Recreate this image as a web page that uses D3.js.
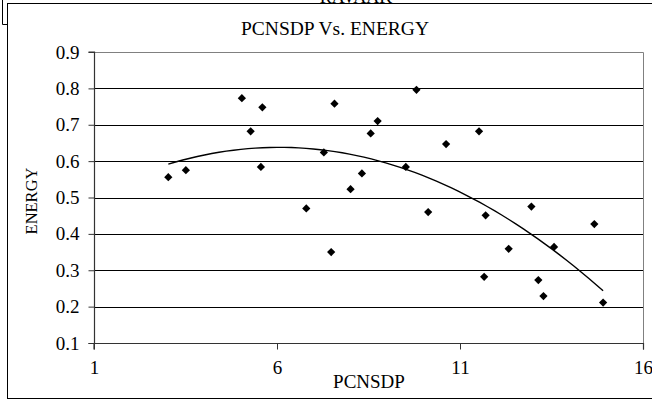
<!DOCTYPE html>
<html>
<head>
<meta charset="utf-8">
<script src="https://cdn.jsdelivr.net/npm/d3@7"></script>
<style>
  html, body { margin: 0; padding: 0; background: #fff; }
  svg { display: block; }
  text { font-family: "Liberation Serif", "Times New Roman", serif; fill: #000; }
</style>
</head>
<body>
<script>
// ---- data ----
const pcnsdp = [3.03, 3.51, 5.04, 5.28, 5.60, 5.56, 6.80, 7.28, 7.57, 7.48, 8.01, 8.32, 8.56, 8.75,
                9.81, 9.52, 10.13, 10.62, 11.52, 11.70, 11.66, 12.33, 12.95, 13.14, 13.28, 13.57, 14.67, 14.91];
const energy = [0.556, 0.575, 0.773, 0.682, 0.748, 0.584, 0.470, 0.624, 0.758, 0.350, 0.523, 0.566, 0.676, 0.710,
                0.796, 0.584, 0.460, 0.647, 0.682, 0.451, 0.282, 0.359, 0.475, 0.273, 0.229, 0.364, 0.427, 0.211];
const xTicks = [1, 6, 11, 16];
const yTicks = [0.1, 0.2, 0.3, 0.4, 0.5, 0.6, 0.7, 0.8, 0.9];
const chartTitle = "PCNSDP Vs. ENERGY";
const xTitle = "PCNSDP";
const yTitle = "ENERGY";
const backTitle = "RAVAAK";

const W = 652, H = 400;
const plot = { left: 94, right: 643, top: 52, bottom: 343 };

const svg = d3.select("body").append("svg").attr("width", W).attr("height", H);
svg.append("rect").attr("width", W).attr("height", H).attr("fill", "#fff");

// background box behind chart (only its lower edge is visible, as in the reference)
svg.append("text").attr("x", 356).attr("y", 3).attr("text-anchor", "middle")
  .style("font-size", "18px").text(backTitle);
svg.append("path").attr("d", "M2.5,-1 V24.5 H8").attr("fill", "none").attr("stroke", "#000").attr("stroke-width", 1);

// chart border
svg.append("rect").attr("x", 7.5).attr("y", 3.5).attr("width", 700).attr("height", 395)
  .attr("fill", "#fff").attr("stroke", "#000").attr("stroke-width", 1);

const x = d3.scaleLinear().domain([1, 16]).range([plot.left, plot.right]);
const y = d3.scaleLinear().domain([0.1, 0.9]).range([plot.bottom, plot.top]);

// gridlines
svg.append("g").selectAll("line").data(yTicks.slice(1, -1)).join("line")
  .attr("x1", plot.left).attr("x2", plot.right)
  .attr("y1", d => Math.round(y(d)) + 0.5).attr("y2", d => Math.round(y(d)) + 0.5)
  .attr("stroke", "#000").attr("stroke-width", 1);

// plot area border (gray)
svg.append("path")
  .attr("d", `M${plot.left},${plot.top + 0.5} H${plot.right + 0.5} V${plot.bottom}`)
  .attr("fill", "none").attr("stroke", "#808080").attr("stroke-width", 1);

// axes
const yAxis = d3.axisLeft(y).tickValues(yTicks).tickFormat(d3.format(".1f")).tickSize(6).tickPadding(9);
const xAxis = d3.axisBottom(x).tickValues(xTicks).tickFormat(d3.format("d")).tickSize(6).tickPadding(11);

const gy = svg.append("g").attr("transform", `translate(${plot.left + 0.5},0)`).call(yAxis);
const gx = svg.append("g").attr("transform", `translate(0,${plot.bottom + 0.5})`).call(xAxis);
[gx, gy].forEach(g => {
  g.select(".domain").attr("stroke", "#333").attr("stroke-width", 1.2);
  g.selectAll(".tick line").attr("stroke", "#333");
  g.selectAll(".tick text").attr("fill", "#000")
    .style("font-family", '"Liberation Serif", serif').style("font-size", "19px");
});
gy.select(".domain").attr("d", `M-6,${plot.bottom + 0.5}H0V${plot.top}H-6`);
gx.select(".domain").attr("d", `M${plot.left},6V0H${plot.right + 0.5}V6`);

// titles
svg.append("text").attr("x", 335).attr("y", 35).attr("text-anchor", "middle")
  .style("font-size", "19.5px").text(chartTitle);
svg.append("text").attr("x", 369).attr("y", 388).attr("text-anchor", "middle")
  .style("font-size", "19px").text(xTitle);
svg.append("text").attr("transform", `translate(37,201) rotate(-90)`).attr("text-anchor", "middle")
  .style("font-size", "16.5px").text(yTitle);

// polynomial (order 2) least-squares trendline computed from the data
function polyfit2(xs, ys) {
  let s = [0,0,0,0,0], t = [0,0,0];
  xs.forEach((xv, i) => {
    let p = 1;
    for (let k = 0; k < 5; k++) { s[k] += p; if (k < 3) t[k] += p * ys[i]; p *= xv; }
  });
  const A = [[s[0], s[1], s[2], t[0]], [s[1], s[2], s[3], t[1]], [s[2], s[3], s[4], t[2]]];
  for (let i = 0; i < 3; i++) {
    for (let j = i + 1; j < 3; j++) {
      const f = A[j][i] / A[i][i];
      for (let k = i; k < 4; k++) A[j][k] -= f * A[i][k];
    }
  }
  const c = [0,0,0];
  for (let i = 2; i >= 0; i--) {
    let v = A[i][3];
    for (let k = i + 1; k < 3; k++) v -= A[i][k] * c[k];
    c[i] = v / A[i][i];
  }
  return c;
}
const coef = polyfit2(pcnsdp, energy);
const xmin = d3.min(pcnsdp), xmax = d3.max(pcnsdp);
const trend = d3.range(0, 61).map(i => {
  const xv = xmin + (xmax - xmin) * i / 60;
  return [xv, coef[0] + coef[1] * xv + coef[2] * xv * xv];
});
svg.append("path").datum(trend)
  .attr("d", d3.line().x(d => x(d[0])).y(d => y(d[1])))
  .attr("fill", "none").attr("stroke", "#000").attr("stroke-width", 1.4);

// markers
const sym = d3.symbol(d3.symbolSquare, 34);
svg.append("g").selectAll("path").data(pcnsdp.map((v, i) => [v, energy[i]])).join("path")
  .attr("d", sym)
  .attr("transform", d => `translate(${x(d[0])},${y(d[1])}) rotate(45)`)
  .attr("fill", "#000");
</script>
</body>
</html>
